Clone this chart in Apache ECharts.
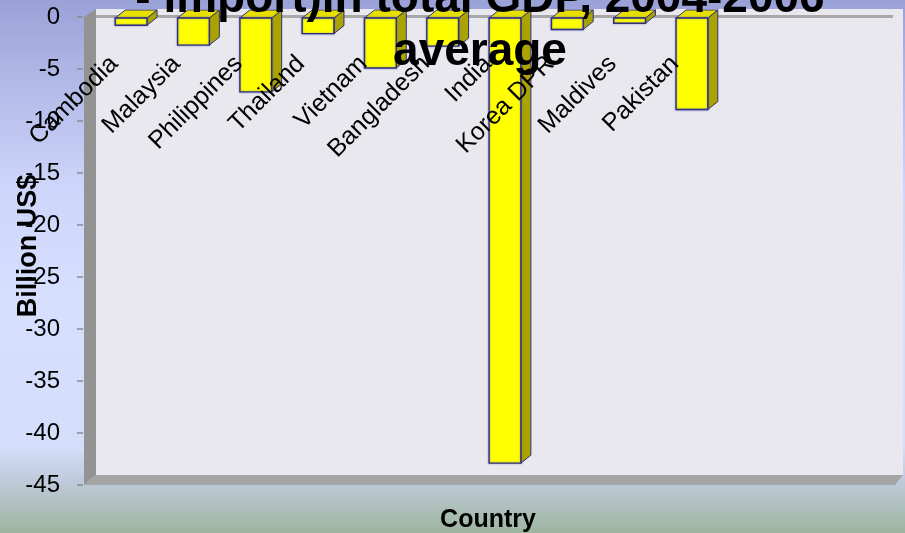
<!DOCTYPE html>
<html>
<head>
<meta charset="utf-8">
<title>Trade balance chart</title>
<script src="https://cdn.jsdelivr.net/npm/echarts@6/dist/echarts.min.js"></script>
<style>
    html, body { margin: 0; padding: 0; }
    #chart { width: 905px; height: 533px; }
</style>
</head>
<body>
<div id="chart"></div>
<script>
// data
const categories = ['Cambodia', 'Malaysia', 'Philippines', 'Thailand', 'Vietnam',
    'Bangladesh', 'India', 'Korea DPR', 'Maldives', 'Pakistan'];
const balance = [-0.8, -2.7, -7.2, -1.6, -4.9, -2.8, -42.9, -1.2, -0.6, -8.9];
const titleLines = ['- import)in total GDP, 2004-2006', 'average'];
const yMin = -45;
const yMax = 0;
const yStep = 5;
// the plot has room for a few more slots than there are countries
const emptySlots = 3;

document.addEventListener('DOMContentLoaded', function () {
    const chart = echarts.init(document.getElementById('chart'));
    const font = 'Liberation Sans, Arial, sans-serif';

    const axisData = categories.concat(new Array(emptySlots).fill(''));
    const barData = balance.map((v, i) => [i, v]);

    // 3D depth of bars and walls; bars sit a bit right of the label anchors
    const dx = 10, dy = 8, shift = 17;

    function renderBar(params, api) {
        const i = api.value(0);
        const v = api.value(1);
        const zero = api.coord([i, 0]);
        const end = api.coord([i, v]);
        const w = api.size([1, 0])[0] * 0.51;
        const x0 = zero[0] + shift - w / 2;
        const x1 = x0 + w;
        const y0 = zero[1] + 1;
        const y1 = end[1];
        const edge = '#30307a';
        return {
            type: 'group',
            children: [
                {
                    type: 'polygon',
                    shape: { points: [[x1, y0], [x1 + dx, y0 - dy], [x1 + dx, y1 - dy], [x1, y1]] },
                    style: { fill: '#aba400', stroke: edge, lineWidth: 1 }
                },
                {
                    type: 'polygon',
                    shape: { points: [[x0, y0], [x0 + dx, y0 - dy], [x1 + dx, y0 - dy], [x1, y0]] },
                    style: { fill: '#e6df00', stroke: edge, lineWidth: 1 }
                },
                {
                    type: 'rect',
                    shape: { x: x0, y: y0, width: w, height: y1 - y0 },
                    style: {
                        fill: '#ffff00', stroke: edge, lineWidth: 1.4,
                        shadowBlur: 2, shadowColor: 'rgba(90,90,200,0.6)'
                    }
                }
            ]
        };
    }

    const option = {
        animation: false,
        grid: { left: 83, top: 17, width: 810, bottom: 48, outerBoundsMode: 'none', containLabel: false },
        graphic: [
            // page background
            {
                type: 'rect', z: -20, silent: true,
                shape: { x: 0, y: 0, width: 905, height: 533 },
                style: {
                    fill: new echarts.graphic.LinearGradient(0, 0, 0, 1, [
                        { offset: 0, color: '#99a1d7' },
                        { offset: 0.12, color: '#acb4e4' },
                        { offset: 0.35, color: '#cdd5fa' },
                        { offset: 0.55, color: '#d6dffe' },
                        { offset: 0.84, color: '#d4ddfa' },
                        { offset: 0.9, color: '#bfcbdc' },
                        { offset: 0.95, color: '#afc0bd' },
                        { offset: 1, color: '#9db4a0' }
                    ])
                }
            },
            // back wall
            {
                type: 'rect', z: -10, silent: true,
                shape: { x: 96, y: 9, width: 807, height: 466 },
                style: { fill: '#e9e8ee' }
            },
            // left wall
            {
                type: 'polygon', z: -9, silent: true,
                shape: { points: [[84, 17], [96, 9], [96, 475], [84, 485]] },
                style: { fill: '#939393' }
            },
            // floor
            {
                type: 'polygon', z: -9, silent: true,
                shape: { points: [[84, 485], [96, 475], [903, 475], [895, 485]] },
                style: { fill: '#a5a5a5' }
            },
            // zero line along the top
            {
                type: 'line', z: -8, silent: true,
                shape: { x1: 96, y1: 16.5, x2: 893, y2: 16.5 },
                style: { stroke: '#a8a8a8', lineWidth: 3 }
            },
            {
                type: 'text', z: 100, silent: true,
                style: {
                    text: titleLines.join('\n'),
                    x: 480, y: -27,
                    align: 'center', verticalAlign: 'top',
                    fontFamily: font, fontWeight: 'bold', fontSize: 46, lineHeight: 53,
                    fill: '#000'
                }
            },
            {
                type: 'text', z: 100, silent: true,
                style: {
                    text: 'Country',
                    x: 488, y: 520,
                    align: 'center', verticalAlign: 'middle',
                    fontFamily: font, fontWeight: 'bold', fontSize: 25,
                    fill: '#000'
                }
            }
        ],
        xAxis: {
            type: 'category',
            data: axisData,
            position: 'top',
            z: 5,
            axisLine: { show: false },
            axisTick: { show: false },
            axisLabel: {
                inside: true,
                interval: 0,
                rotate: 45,
                margin: 43,
                color: '#000',
                fontFamily: font,
                fontSize: 25
            }
        },
        yAxis: {
            type: 'value',
            min: yMin,
            max: yMax,
            interval: yStep,
            offset: 0,
            name: 'Billion US$',
            nameLocation: 'middle',
            nameRotate: 90,
            nameGap: 41,
            nameMoveOverlap: false,
            nameTextStyle: {
                fontFamily: font, fontWeight: 'bold', fontSize: 27, color: '#000',
                padding: [0, 0, 0, 10]
            },
            axisLine: { show: false },
            axisTick: { show: true, length: 6, lineStyle: { color: '#8a8a8a', width: 1.5 } },
            axisLabel: { margin: 23, color: '#000', fontFamily: font, fontSize: 24 },
            splitLine: { show: false }
        },
        series: [{
            type: 'custom',
            z: 2,
            renderItem: renderBar,
            encode: { x: 0, y: 1 },
            data: barData
        }]
    };

    chart.setOption(option);
});
</script>
</body>
</html>
